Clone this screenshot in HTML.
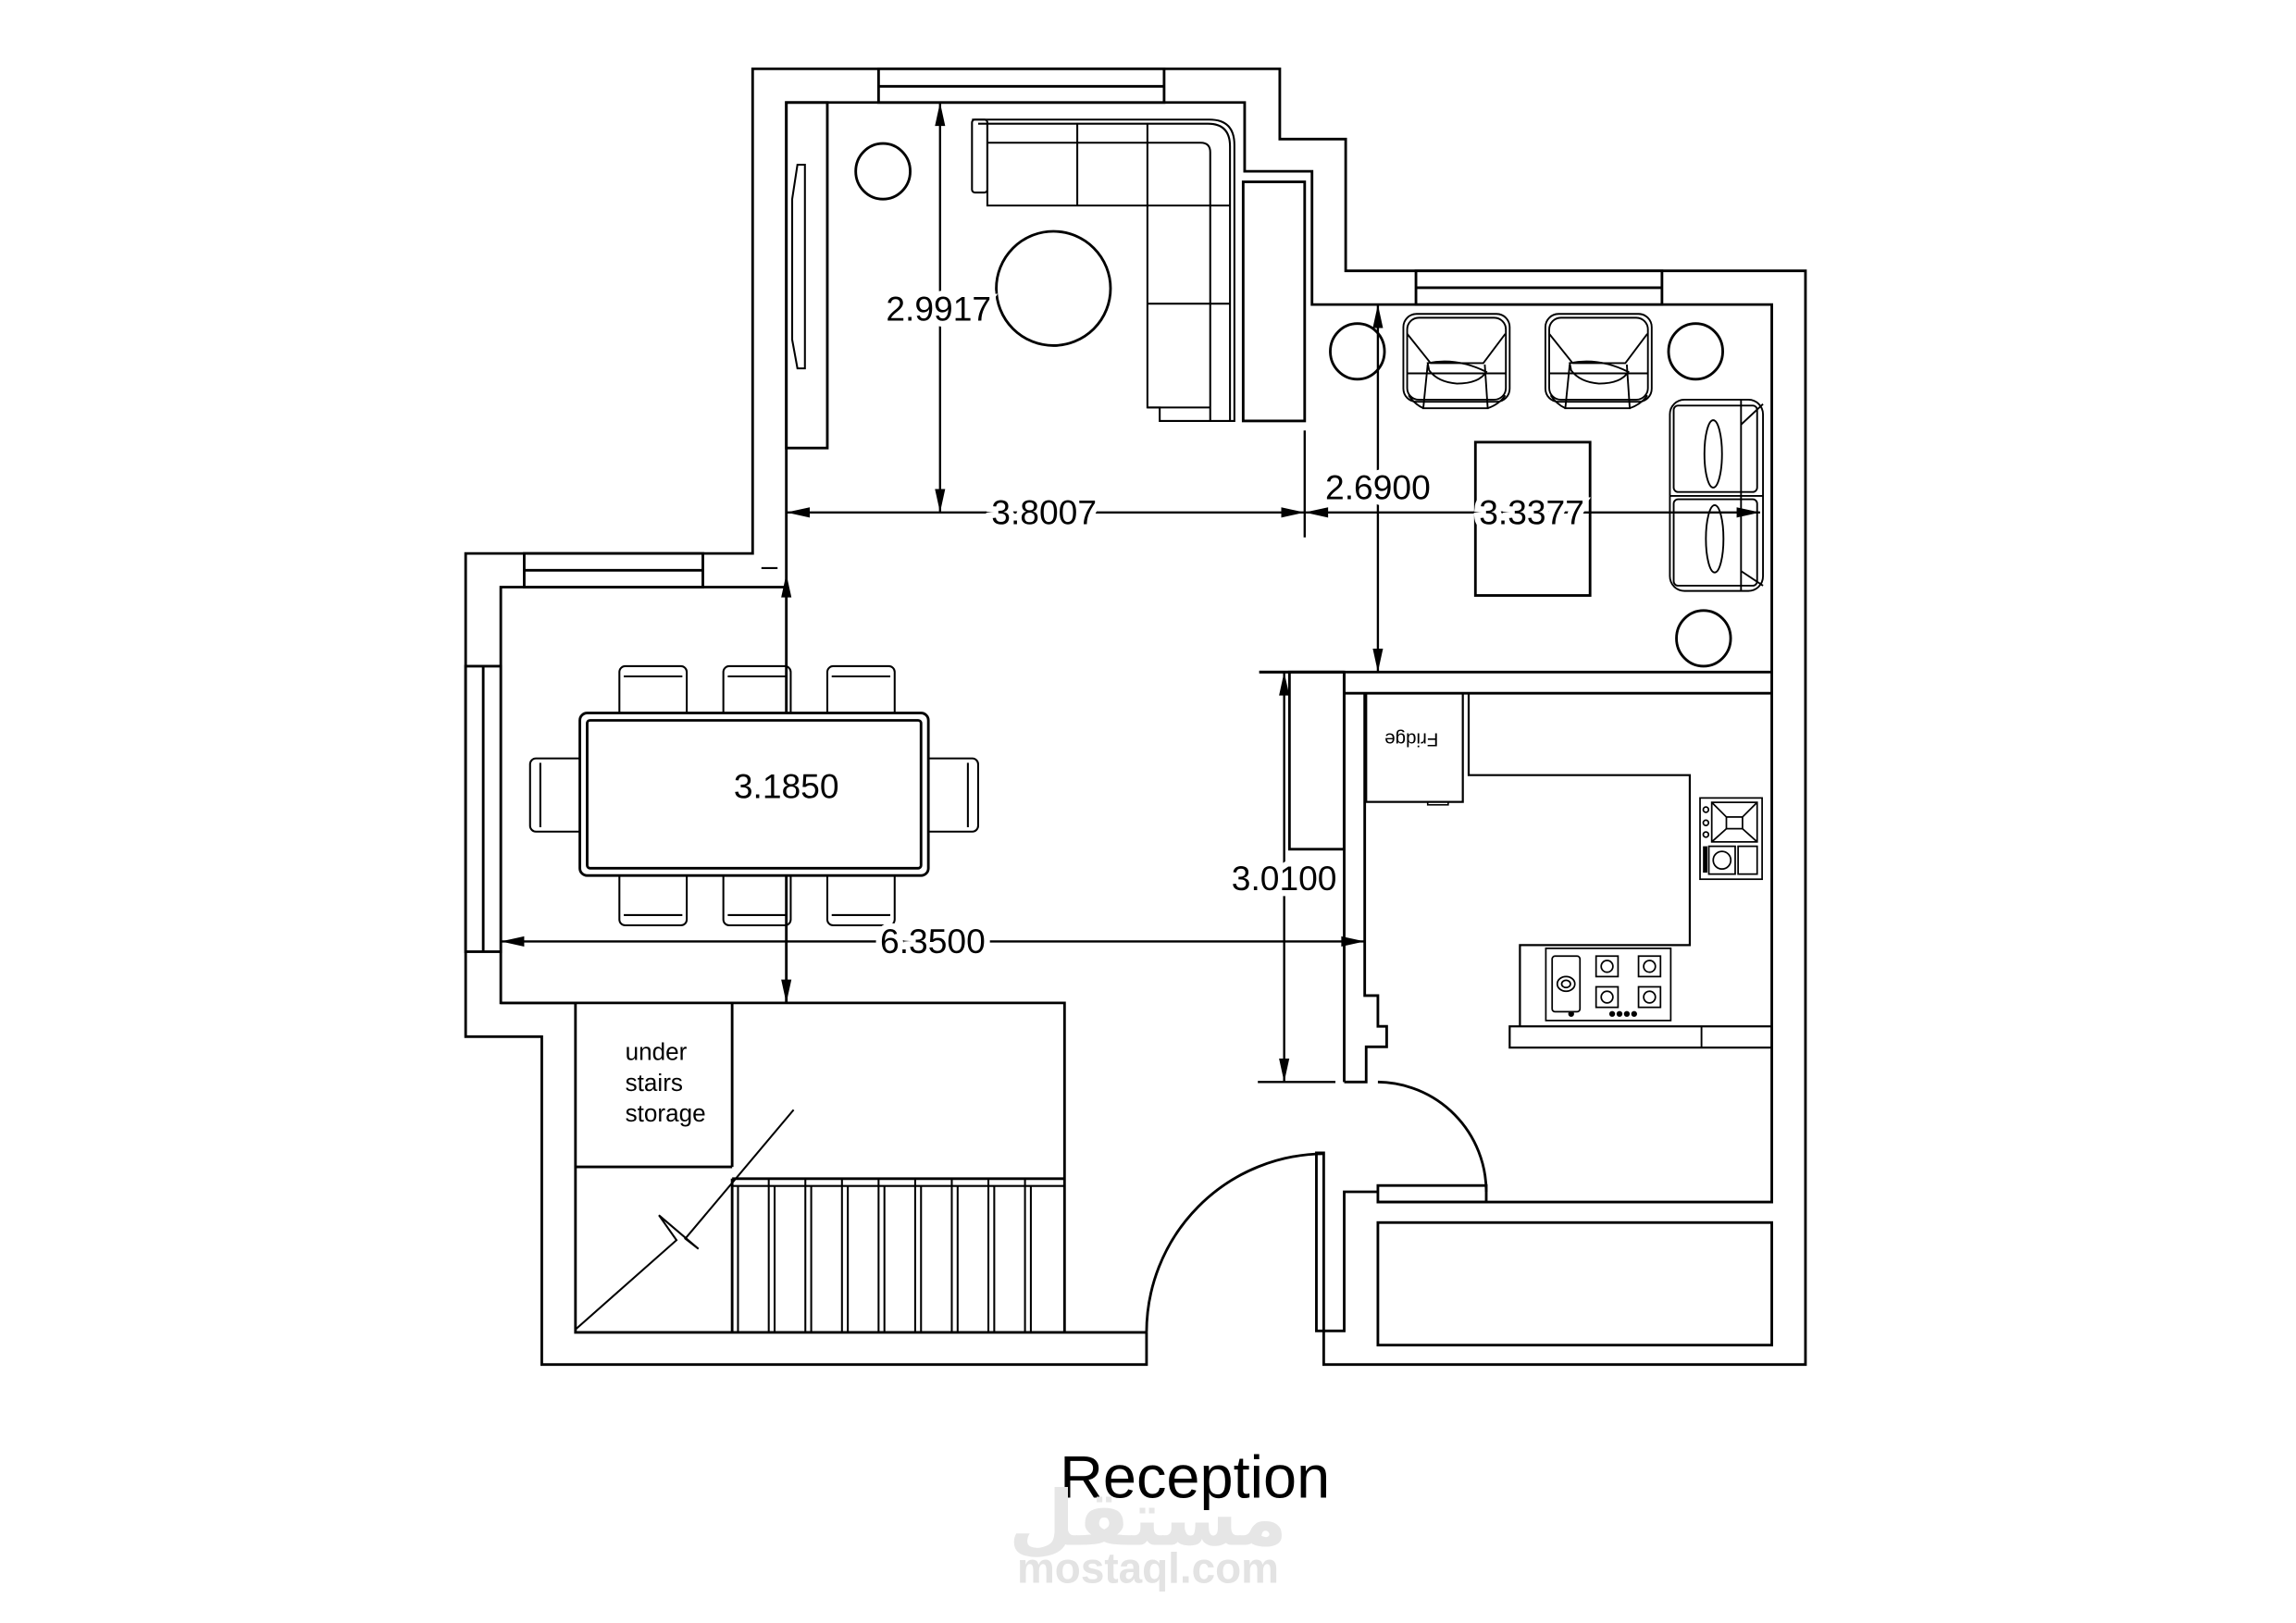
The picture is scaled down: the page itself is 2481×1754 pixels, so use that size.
<!DOCTYPE html>
<html><head><meta charset="utf-8"><style>
html,body{margin:0;padding:0;background:#fff}
svg{display:block}
text{font-family:"Liberation Sans",sans-serif}
.d{font-size:23.5px;text-anchor:middle;fill:#000;stroke:#fff;stroke-width:8px;paint-order:stroke}
</style></head><body>
<svg width="2481" height="1754" viewBox="0 0 1568 1108.5" preserveAspectRatio="none" xmlns="http://www.w3.org/2000/svg">
<rect width="1568" height="1109" fill="#fff"/>
<g fill="none" stroke="#000" stroke-width="1.8" stroke-linejoin="miter">
<path d="M783,910 V932 H370 V708 H318 V378 H514 V47 H874 V95 H919 V185 H1233 V932 H904 V909"/>
<path d="M783,910 H393 V685 H342 V401 H537 V70 H850 V117 H896 V208 H1210 V459 H860"/>
<path d="M537,401 V685"/>
<rect x="600" y="47" width="195" height="23" fill="#fff"/><line x1="600" y1="59" x2="795" y2="59"/>
<rect x="967" y="185" width="168" height="23" fill="#fff"/><line x1="967" y1="196.5" x2="1135" y2="196.5"/>
<rect x="358" y="378" width="122" height="23" fill="#fff"/><line x1="358" y1="389.5" x2="480" y2="389.5"/>
<rect x="318" y="455" width="24" height="195" fill="#fff"/><line x1="330" y1="455" x2="330" y2="650"/>
<rect x="537" y="70" width="28" height="236"/>
<polygon points="549.7,112.5 544.6,112.5 541,136 541,232 544.6,251.6 549.7,251.6" stroke-width="1.3"/>
<ellipse cx="603" cy="117" rx="18.6" ry="19"/>
<ellipse cx="719.4" cy="197" rx="39" ry="39"/>
<g stroke-width="1.3">
<path d="M663.8,81.7 H826 Q843,81.7 843,99 V287.5 H792 V278.3 H783.6"/>
<path d="M668,84.5 H825 Q840,84.5 840,100 V287.5"/>
<path d="M674.3,97.5 H820 Q826.5,97.5 826.5,104 V287.5"/>
<rect x="663.8" y="81.7" width="10.5" height="49.8" rx="2"/>
<path d="M674.3,84 V140.4 H783.6 V278.3 H826.5"/>
<line x1="735.7" y1="84" x2="735.7" y2="140.4"/>
<line x1="783.6" y1="84" x2="783.6" y2="140.4"/>
<line x1="783.6" y1="140.4" x2="840" y2="140.4"/>
<line x1="783.6" y1="207.4" x2="840" y2="207.4"/>
</g>
<rect x="849" y="124.2" width="42" height="163.3"/>
<ellipse cx="927" cy="240" rx="18.5" ry="19"/>
<ellipse cx="1158" cy="240" rx="18.5" ry="19"/>
<ellipse cx="1163.4" cy="436" rx="18.5" ry="19"/>
<rect x="1007.6" y="302" width="78.3" height="104.7"/>
<g stroke-width="1.2">
<g id="ch">
<rect x="958.4" y="214.4" width="72.6" height="60" rx="9"/>
<rect x="961" y="217" width="67.4" height="56" rx="8"/>
<path d="M961,228 L977,248 L1013,248 L1028,228"/>
<line x1="961" y1="255" x2="1028" y2="255"/>
<path d="M975,249 L972,278.8 H1016 L1014,249"/>
<path d="M972,278.8 Q966,276 962,270 M1016,278.8 Q1024,276 1028,270"/>
<path d="M975,248 Q995,244 1015,254 Q1010,262 995,262 Q982,261 976,253 Z"/>
</g>
<use href="#ch" x="97"/>
<rect x="1140.4" y="273" width="63.6" height="130.6" rx="10"/>
<line x1="1140.4" y1="338.7" x2="1204" y2="338.7"/>
<rect x="1143" y="277" width="57" height="59" rx="3"/>
<rect x="1143" y="341" width="57" height="59" rx="3"/>
<line x1="1189" y1="273" x2="1189" y2="403.6"/>
<ellipse cx="1170" cy="310" rx="6" ry="23"/>
<ellipse cx="1171" cy="368" rx="6" ry="23"/>
<path d="M1189,290 L1204,276 M1189,390 L1204,400"/>
</g>
<line x1="918" y1="459" x2="918" y2="739"/>
<path d="M918,473.5 H1210 M860,459 H918"/>
<path d="M932,473.5 V680 H941 V701 H947 V715 H933 V739 H918"/>
<rect x="880.6" y="459" width="37.3" height="121"/>
<path d="M1210,459 V821 H941"/>
<rect x="941" y="809.7" width="74" height="11.3"/>
<path d="M941,739 A75,75 0 0 1 1015,814"/>
<path d="M941,814 H918 V909 H904"/>
<rect x="899" y="787.4" width="5" height="121.6"/>
<path d="M904,788 A122,122 0 0 0 783,910"/>
<rect x="941" y="835" width="269" height="83.7"/>
<rect x="933" y="473.5" width="66" height="74.2" stroke-width="1.4"/>
<rect x="975" y="547.7" width="14" height="2" stroke-width="1"/>
<path d="M1003,473.5 V529.4 H1154 V645.5 H1038 V701" stroke-width="1.4"/>
<rect x="1031" y="701" width="179" height="14.5" stroke-width="1.4"/>
<line x1="1162" y1="701" x2="1162" y2="715.5" stroke-width="1.2"/>
<g stroke-width="1.1">
<rect x="1055.7" y="647.7" width="85.3" height="49.3"/>
<rect x="1060" y="653" width="19" height="38" rx="2"/>
<ellipse cx="1069.5" cy="672" rx="6" ry="5"/><ellipse cx="1069.5" cy="672" rx="3" ry="2.5"/>
<rect x="1090" y="653" width="15" height="14"/><circle cx="1097.5" cy="660" r="4"/>
<rect x="1119" y="653" width="15" height="14"/><circle cx="1126.5" cy="660" r="4"/>
<rect x="1090" y="674" width="15" height="14"/><circle cx="1097.5" cy="681" r="4"/>
<rect x="1119" y="674" width="15" height="14"/><circle cx="1126.5" cy="681" r="4"/>
</g>
<g fill="#000" stroke="none">
<circle cx="1073" cy="692.5" r="2"/><circle cx="1101" cy="692.5" r="2"/><circle cx="1106" cy="692.5" r="2"/><circle cx="1111" cy="692.5" r="2"/><circle cx="1116" cy="692.5" r="2"/>
<rect x="1163" y="578" width="3" height="18"/>
</g>
<g stroke-width="1.1">
<rect x="1161" y="545" width="42.4" height="55.5"/>
<rect x="1169" y="548" width="31" height="27"/>
<path d="M1169,548 L1179,558 M1200,548 L1190,558 M1169,575 L1179,566 M1200,575 L1190,566"/>
<rect x="1179" y="558" width="11" height="8"/>
<circle cx="1165" cy="553" r="1.8"/><circle cx="1165" cy="562" r="1.8"/><circle cx="1165" cy="570" r="1.8"/>
<rect x="1167" y="578" width="18" height="19"/><circle cx="1176" cy="587.5" r="6"/>
<rect x="1187" y="578" width="13" height="19"/>
</g>
<g stroke-width="1.3">
<rect x="423" y="455" width="46" height="36" rx="4"/><rect x="494" y="455" width="46" height="36" rx="4"/><rect x="565" y="455" width="46" height="36" rx="4"/>
<rect x="423" y="595" width="46" height="37" rx="4"/><rect x="494" y="595" width="46" height="37" rx="4"/><rect x="565" y="595" width="46" height="37" rx="4"/>
<line x1="426" y1="462" x2="466" y2="462"/><line x1="497" y1="462" x2="537" y2="462"/><line x1="568" y1="462" x2="608" y2="462"/>
<line x1="426" y1="625" x2="466" y2="625"/><line x1="497" y1="625" x2="537" y2="625"/><line x1="568" y1="625" x2="608" y2="625"/>
<rect x="362" y="518" width="38" height="50" rx="4"/><rect x="630" y="518" width="38" height="50" rx="4"/>
<line x1="369" y1="521" x2="369" y2="565"/><line x1="661" y1="521" x2="661" y2="565"/>
</g>
<rect x="396" y="487" width="238" height="111" rx="5" fill="#fff"/>
<rect x="401" y="492" width="228" height="101" rx="2"/>
<path d="M342,685 H727 V910"/>
<line x1="500" y1="685" x2="500" y2="797"/>
<line x1="393" y1="797" x2="500" y2="797"/>
<path d="M500,805 H727 M500,805 V910"/>
<g stroke-width="1.3">
<path d="M525,805V910 M550,805V910 M575,805V910 M600,805V910 M625,805V910 M650,805V910 M675,805V910 M700,805V910"/>
<path d="M504,810V910 M529,810V910 M554,810V910 M579,810V910 M604,810V910 M629,810V910 M654,810V910 M679,810V910 M704,810V910"/>
<path d="M500,810 H727"/>
</g>
<path d="M393,908 L462,847 L450,830 L477,853 L468,846 L542,758" stroke-width="1.3"/>
<line x1="520" y1="388" x2="531" y2="388" stroke-width="1.3"/>
<g stroke-width="1.5">
<line x1="642" y1="70" x2="642" y2="350"/>
<line x1="537" y1="350" x2="891" y2="350"/>
<line x1="891" y1="350" x2="1202" y2="350"/>
<line x1="891" y1="294" x2="891" y2="367"/>
<line x1="941" y1="208" x2="941" y2="459"/>
<line x1="342" y1="643" x2="932" y2="643"/>
<line x1="877" y1="459" x2="877" y2="739"/>
<line x1="859" y1="739" x2="912" y2="739"/>
</g>
</g>
<g fill="#000">
<polygon points="642,70 638.5,86 645.5,86"/><polygon points="642,350 638.5,334 645.5,334"/>
<polygon points="537,350 553,346.5 553,353.5"/><polygon points="891,350 875,346.5 875,353.5"/>
<polygon points="891,350 907,346.5 907,353.5"/><polygon points="1202,350 1186,346.5 1186,353.5"/>
<polygon points="941,208 937.5,224 944.5,224"/><polygon points="941,459 937.5,443 944.5,443"/>
<polygon points="537,392 533.5,408 540.5,408"/><polygon points="537,685 533.5,669 540.5,669"/>
<polygon points="342,643 358,639.5 358,646.5"/><polygon points="932,643 916,639.5 916,646.5"/>
<polygon points="877,459 873.5,475 880.5,475"/><polygon points="877,739 873.5,723 880.5,723"/>
</g>
<text class="d" x="641" y="219">2.9917</text>
<text class="d" x="713" y="358">3.8007</text>
<text class="d" x="941" y="341">2.6900</text>
<text class="d" x="1046" y="358">3.3377</text>
<text class="d" x="537" y="545">3.1850</text>
<text class="d" x="637" y="651">6.3500</text>
<text class="d" x="877" y="608">3.0100</text>
<text x="964" y="511" font-size="13" text-anchor="middle" transform="rotate(180 964 506)">Fridge</text>
<text font-size="16.5" x="427" y="724">under</text>
<text font-size="16.5" x="427" y="745">stairs</text>
<text font-size="16.5" x="427" y="766">storage</text>
<text x="816" y="1023" font-size="41" text-anchor="middle">Reception</text>
<text x="784" y="1055" font-size="52" font-weight="bold" text-anchor="middle" fill="#e6e6e6" style="font-family:'Liberation Sans','DejaVu Sans',sans-serif">مستقل</text>
<text x="784" y="1081" font-size="29" font-weight="bold" text-anchor="middle" fill="#e3e3e3">mostaql.com</text>
</svg>
</body></html>
